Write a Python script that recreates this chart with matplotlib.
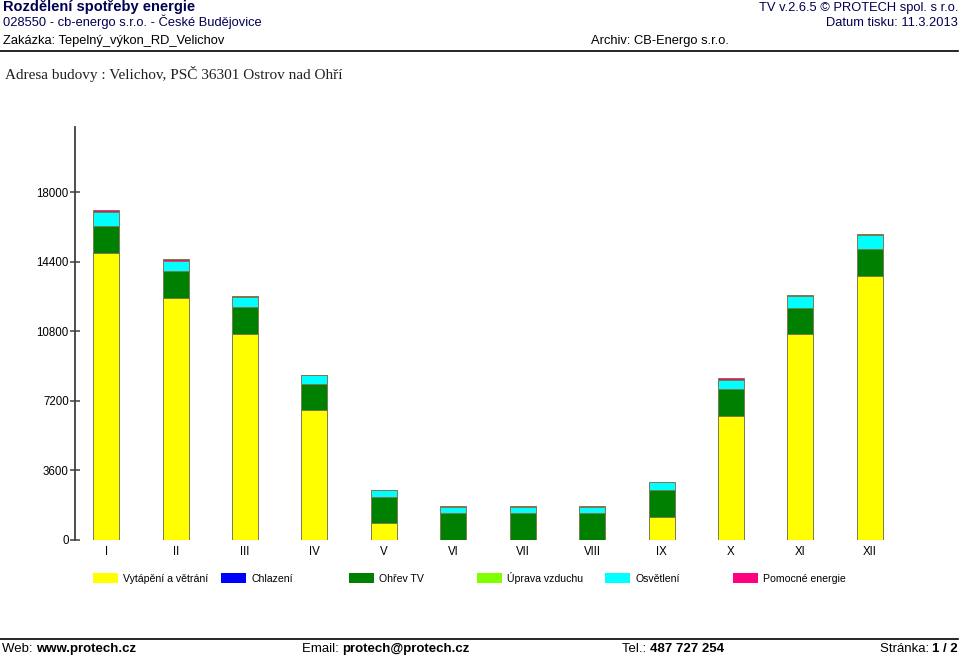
import matplotlib
matplotlib.use("Agg")
import matplotlib.pyplot as plt
from matplotlib.patches import Rectangle
from matplotlib.lines import Line2D
import numpy as np

months = ["I", "II", "III", "IV", "V", "VI", "VII", "VIII", "IX", "X", "XI", "XII"]
vytapeni = [14880, 12530, 10660, 6700, 840, 0, 0, 0, 1180, 6420, 10640, 13680]
chlazeni = [0, 0, 0, 0, 0, 0, 0, 0, 0, 0, 0, 0]
ohrev_tv = [1390, 1400, 1400, 1380, 1380, 1360, 1360, 1360, 1385, 1385, 1380, 1385]
uprava = [0, 0, 0, 0, 0, 0, 0, 0, 0, 0, 0, 0]
osvetleni = [725, 535, 500, 435, 350, 340, 340, 340, 400, 480, 590, 740]
pomocne = [70, 70, 55, 40, 20, 15, 15, 15, 25, 70, 55, 55]

series = [vytapeni, chlazeni, ohrev_tv, uprava, osvetleni, pomocne]
names = ["Vytápění a větrání", "Chlazení", "Ohřev TV", "Úprava vzduchu", "Osvětlení", "Pomocné energie"]
colors = ["#FFFF00", "#0000FF", "#008000", "#80FF00", "#00FFFF", "#FF0080"]
yticks = [0, 3600, 7200, 10800, 14400, 18000]

W, H = 960, 656
fig = plt.figure(figsize=(W / 100, H / 100), dpi=100)
plt.rcParams['font.family'] = ['Liberation Sans', 'DejaVu Sans']

def fx(px):
    return px / W

def fy(py):
    return 1 - py / H

# header (baseline-anchored)
fig.text(fx(3), fy(11.5), "Rozdělení spotřeby energie", fontsize=10.5, fontweight='bold',
         color='#000050', va='baseline', ha='left')
fig.text(fx(3), fy(26), "028550 - cb-energo s.r.o. - České Budějovice", fontsize=9.3,
         color='#000050', va='baseline', ha='left')
fig.text(fx(3), fy(44), "Zakázka: Tepelný_výkon_RD_Velichov", fontsize=9.3,
         color='black', va='baseline', ha='left')
fig.text(fx(958), fy(11), "TV v.2.6.5 © PROTECH spol. s r.o.", fontsize=9.3,
         color='#000050', va='baseline', ha='right')
fig.text(fx(958), fy(26), "Datum tisku: 11.3.2013", fontsize=9.3,
         color='#000050', va='baseline', ha='right')
fig.text(fx(591), fy(44), "Archiv: CB-Energo s.r.o.", fontsize=9.3,
         color='black', va='baseline', ha='left')
fig.add_artist(Line2D([0, fx(958)], [fy(51), fy(51)], color='black', lw=1.2,
                      transform=fig.transFigure))
fig.text(fx(5), fy(79.5), "Adresa budovy : Velichov, PSČ 36301 Ostrov nad Ohří", fontsize=11,
         family=['Liberation Serif', 'DejaVu Serif'], color='#202020',
         va='baseline', ha='left')

# axes
ax_left, ax_right = 75, 901
ax_top, ax_bot = 127, 539.5
ax = fig.add_axes([fx(ax_left), fy(ax_bot), fx(ax_right - ax_left), (ax_bot - ax_top) / H])
x = np.arange(1, 13)
bottom = np.zeros(12)
for vals, col, nm in zip(series, colors, names):
    v = np.array(vals, dtype=float)
    ax.bar(x, v, width=0.375, bottom=bottom, color=col, edgecolor='#7a7a50',
           linewidth=0.7, label=nm)
    bottom += v
ax.set_xlim(0.55, 12.45)
ax.set_ylim(0, 21390)
for s in ['top', 'right', 'bottom']:
    ax.spines[s].set_visible(False)
ax.spines['left'].set_color('#404040')
ax.spines['left'].set_linewidth(1.3)
ax.set_yticks(yticks)
ax.set_yticklabels([str(t) for t in yticks])
ax.tick_params(axis='y', direction='inout', length=7, width=1.1, color='#404040',
               labelsize=8.3, pad=1)
ax.set_xticks(x)
ax.set_xticklabels(months)
ax.tick_params(axis='x', length=0, labelsize=8.3, pad=5)

# legend
for i, (nm, col) in enumerate(zip(names, colors)):
    bx = 93 + 128 * i
    fig.add_artist(Rectangle((fx(bx), fy(583)), fx(25), 10 / H, facecolor=col,
                             edgecolor='none', transform=fig.transFigure))
    fig.text(fx(bx + 30), fy(582), nm, fontsize=7.6, va='baseline', ha='left',
             family=['Liberation Sans Narrow', 'Liberation Sans', 'DejaVu Sans'])

# footer
fig.add_artist(Line2D([0, fx(958)], [fy(639), fy(639)], color='black', lw=1.2,
                      transform=fig.transFigure))
ff = ['Liberation Sans Narrow', 'Liberation Sans', 'DejaVu Sans']
FB = 652

def two_part(xpx, a, b):
    t1 = fig.text(fx(xpx), fy(FB), a, fontsize=9.5, va='baseline', ha='left', family=ff)
    fig.canvas.draw()
    r = fig.canvas.get_renderer()
    bb = t1.get_window_extent(renderer=r)
    t2 = fig.text(bb.x1 / W, fy(FB), b, fontsize=9.5, fontweight='bold',
                  va='baseline', ha='left', family=ff)
    return t1, t2

two_part(2, "Web: ", "www.protech.cz")
two_part(302, "Email: ", "protech@protech.cz")
two_part(622, "Tel.: ", "487 727 254")
t1, t2 = two_part(0, "Stránka: ", "1 / 2")
fig.canvas.draw()
r = fig.canvas.get_renderer()
wtot = t2.get_window_extent(renderer=r).x1 - t1.get_window_extent(renderer=r).x0
shift = 958 - wtot
t1.set_x(fx(shift))
t2.set_x(t2.get_position()[0] + fx(shift))

fig.savefig("out.png", dpi=100)
